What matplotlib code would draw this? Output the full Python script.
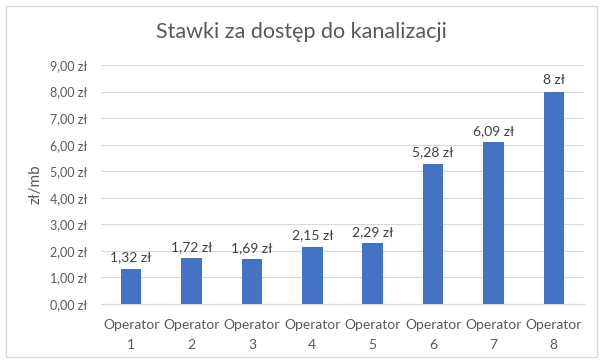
import matplotlib
matplotlib.use("Agg")
import matplotlib.pyplot as plt
from matplotlib.patches import Rectangle
from matplotlib.ticker import FuncFormatter

categories = ["Operator\n1", "Operator\n2", "Operator\n3", "Operator\n4",
              "Operator\n5", "Operator\n6", "Operator\n7", "Operator\n8"]
values = [1.32, 1.72, 1.69, 2.15, 2.29, 5.28, 6.09, 8.0]
value_labels = ["1,32 zł", "1,72 zł", "1,69 zł", "2,15 zł", "2,29 zł", "5,28 zł", "6,09 zł", "8 zł"]
yticks = [0, 1, 2, 3, 4, 5, 6, 7, 8, 9]

plt.rcParams['font.family'] = ['Lato', 'DejaVu Sans']
grey = "#595959"

fig = plt.figure(figsize=(6.03, 3.64), dpi=100)
ax = fig.add_axes([101/603, 1 - 304/364, 483/603, (304 - 65)/364])

x = range(len(categories))
ax.bar(x, values, width=0.34, color="#4472C4", zorder=3)
for xi, v, lab in zip(x, values, value_labels):
    ax.text(xi, v + 0.2, lab, ha="center", va="bottom", fontsize=10, color="#404040")

ax.set_xlim(-0.5, len(categories) - 0.5)
ax.set_ylim(0, 9)
ax.set_yticks(yticks)
ax.yaxis.set_major_formatter(FuncFormatter(lambda v, p: f"{v:.2f}".replace(".", ",") + " zł"))
ax.set_xticks(list(x))
ax.set_xticklabels(categories, fontsize=10, color=grey, linespacing=1.75)
ax.tick_params(axis="y", length=0, labelsize=9, labelcolor=grey, pad=10)
ax.tick_params(axis="x", length=0, pad=11)
ax.grid(axis="y", color="#D9D9D9", linewidth=0.8, zorder=0)
for s in ["top", "right", "left"]:
    ax.spines[s].set_visible(False)
ax.spines["bottom"].set_color("#D9D9D9")
ax.set_ylabel("zł/mb", fontsize=11, color=grey, labelpad=5)

fig.text(0.5, 1 - 32/364, "Stawki za dostęp do kanalizacji", ha="center", va="center",
         fontsize=15.5, color=grey)

fig.patches.append(Rectangle((6/603, 1 - 357/364), 591/603, 351/364, transform=fig.transFigure,
                             fill=False, edgecolor="#D9D9D9", linewidth=1))

fig.savefig("out.png", dpi=100)
